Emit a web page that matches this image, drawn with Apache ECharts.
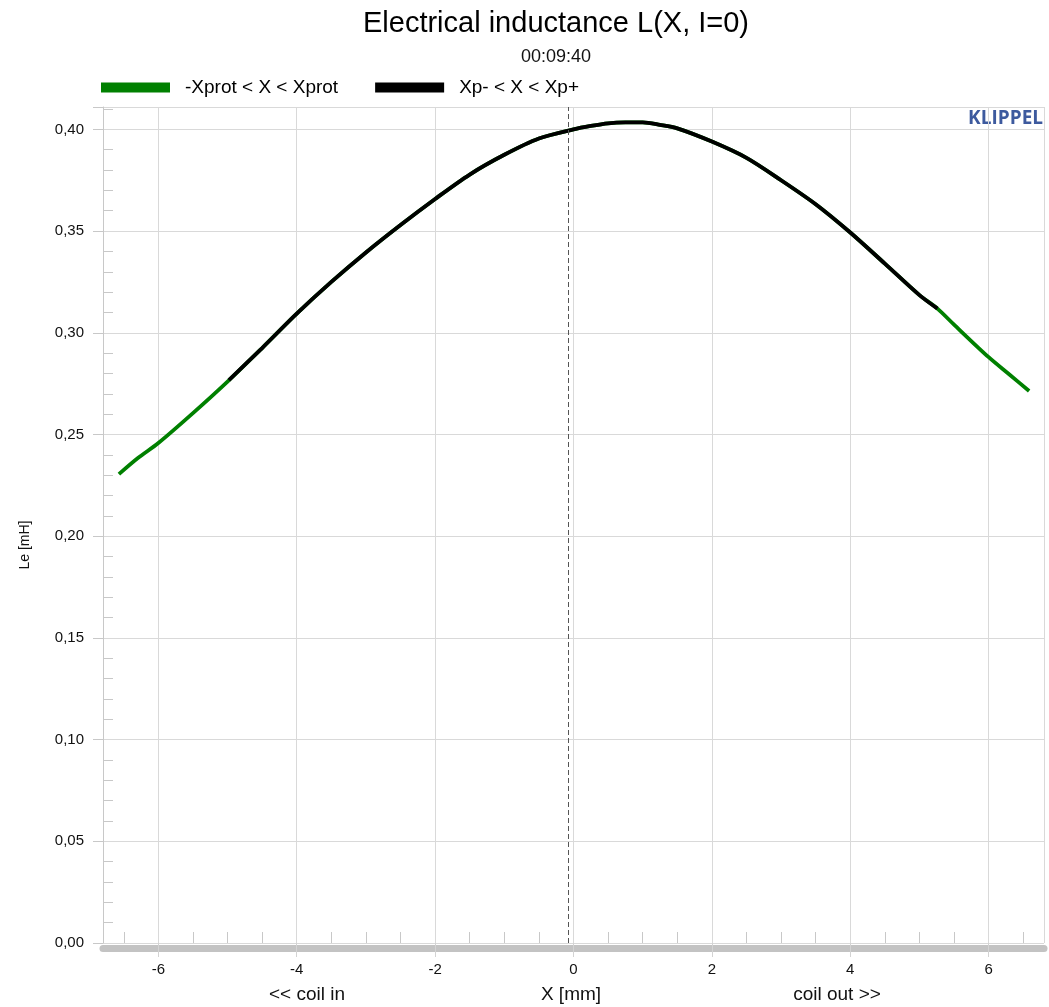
<!DOCTYPE html>
<html><head><meta charset="utf-8">
<script src="https://cdn.jsdelivr.net/npm/echarts@6/dist/echarts.min.js"></script>
<style>html,body{margin:0;padding:0;background:#fff}#c{width:1049px;height:1007px}</style>
</head><body><div id="c"></div>
<script>
// Full range -Xprot < X < Xprot (green)
const protX = [-6.57,-6.3,-6.0,-5.5,-5.0,-4.5,-4.0,-3.5,-3.0,-2.5,-2.0,-1.5,-1.0,-0.5,0.0,0.25,0.5,0.75,1.0,1.25,1.5,2.0,2.5,3.0,3.5,4.0,4.5,5.0,5.26,5.5,6.0,6.3,6.585];
const protL = [0.2305,0.2383,0.2458,0.2605,0.2760,0.2925,0.3094,0.3250,0.3395,0.3530,0.3658,0.3778,0.3875,0.3955,0.4000,0.4017,0.4030,0.4034,0.4034,0.4022,0.4005,0.3940,0.3860,0.3750,0.3632,0.3493,0.3340,0.3185,0.3119,0.3040,0.2880,0.2795,0.2714];
// Xp- < X < Xp+ (black)
const xpX = [-4.98,-4.5,-4.0,-3.5,-3.0,-2.5,-2.0,-1.5,-1.0,-0.5,0.0,0.25,0.5,0.75,1.0,1.25,1.5,2.0,2.5,3.0,3.5,4.0,4.5,5.0,5.26];
const xpL = [0.2767,0.2925,0.3094,0.3250,0.3395,0.3530,0.3658,0.3778,0.3875,0.3955,0.4000,0.4017,0.4030,0.4034,0.4034,0.4022,0.4005,0.3940,0.3860,0.3750,0.3632,0.3493,0.3340,0.3185,0.3119];
const restX = -0.08;
const seriesNames = ['-Xprot < X < Xprot', 'Xp- < X < Xp+'];
const xRange = [-6.8, 6.8];
const yRange = [0, 0.411];
const yStep = 0.05;

const FF = '"Liberation Sans", Arial, sans-serif';
const chart = echarts.init(document.getElementById('c'), null, {renderer:'canvas'});
const yFmt = v => (Math.abs(v / yStep - Math.round(v / yStep)) < 1e-6) ? v.toFixed(2).replace('.', ',') : '';
const baseX = {type:'value', min:xRange[0], max:xRange[1], splitNumber:7, position:'bottom'};
const baseY = {type:'value', min:yRange[0], max:yRange[1], interval:yStep, position:'left'};

chart.setOption({
  animation:false,
  backgroundColor:'#fff',
  grid:{left:103, right:5, top:107, bottom:64, containLabel:false},
  legend:{
    data:seriesNames, left:101, top:78, padding:0, icon:'rect', itemWidth:69, itemHeight:10, itemGap:37,
    textStyle:{fontFamily:FF, fontSize:19, color:'#000', padding:[0,0,0,10]}
  },
  xAxis:[
    Object.assign({}, baseX, {
      axisLine:{show:false, onZero:false},
      axisTick:{show:true, length:14, lineStyle:{color:'#d3d3d3'}},
      axisLabel:{showMinLabel:false, showMaxLabel:false, margin:19, fontSize:15, color:'#111', fontFamily:FF},
      splitLine:{show:true, lineStyle:{color:'#d9d9d9', width:1}}
    }),
    Object.assign({}, baseX, {
      offset:5,
      axisLine:{show:true, onZero:false, lineStyle:{color:'#c3c3c3', width:7}},
      axisTick:{show:false}, axisLabel:{show:false}, splitLine:{show:false}
    }),
    Object.assign({}, baseX, {
      axisLine:{show:false, onZero:false},
      axisTick:{show:false, inside:true},
      minorTick:{show:true, splitNumber:4, length:11, lineStyle:{color:'#c8c8c8'}},
      axisLabel:{show:false}, splitLine:{show:false}
    })
  ],
  yAxis:[
    Object.assign({}, baseY, {
      axisLine:{show:true, onZero:false, lineStyle:{color:'#c8c8c8', width:1}},
      axisTick:{show:true, length:10, lineStyle:{color:'#c8c8c8'}},
      axisLabel:{formatter:yFmt, margin:19, fontSize:15, color:'#111', fontFamily:FF},
      splitLine:{show:true, lineStyle:{color:'#d9d9d9', width:1}}
    }),
    Object.assign({}, baseY, {
      axisLine:{show:false, onZero:false},
      axisTick:{show:false, inside:true},
      minorTick:{show:true, splitNumber:5, length:10, lineStyle:{color:'#c8c8c8'}},
      axisLabel:{show:false}, splitLine:{show:false}
    })
  ],
  series:[
    {
      name:seriesNames[0], type:'line', xAxisIndex:0, yAxisIndex:0,
      data:protX.map((x,i)=>[x, protL[i]]), symbol:'none', showSymbol:false, smooth:0.3,
      lineStyle:{color:'#008000', width:3.8}, itemStyle:{color:'#008000'},
      markLine:{silent:true, symbol:'none', label:{show:false},
        lineStyle:{color:'#555', width:1, type:[5,3]},
        data:[{xAxis:restX}]}
    },
    {
      name:seriesNames[1], type:'line', xAxisIndex:0, yAxisIndex:0,
      data:xpX.map((x,i)=>[x, xpL[i]]), symbol:'none', showSymbol:false, smooth:0.3,
      lineStyle:{color:'#000', width:3.8}, itemStyle:{color:'#000'}
    }
  ],
  graphic:[
    {type:'text', x:556, y:9, style:{text:'Electrical inductance L(X, I=0)', font:'29px ' + FF, fill:'#000', textAlign:'center', textVerticalAlign:'top'}},
    {type:'text', x:556, y:48, style:{text:'00:09:40', font:'18px ' + FF, fill:'#111', textAlign:'center', textVerticalAlign:'top'}},
    {type:'text', x:1043, y:109, style:{text:'KLIPPEL', font:'bold 19px "Open Sans", sans-serif', fill:'#3d5a9e', textAlign:'right', textVerticalAlign:'top'}},
    {type:'text', x:25, y:545, rotation:Math.PI/2, style:{text:'Le [mH]', font:'14px ' + FF, fill:'#111', textAlign:'center', textVerticalAlign:'middle'}},
    {type:'text', x:307, y:995, style:{text:'<< coil in', font:'19px ' + FF, fill:'#111', textAlign:'center', textVerticalAlign:'middle'}},
    {type:'text', x:571, y:995, style:{text:'X [mm]', font:'19px ' + FF, fill:'#111', textAlign:'center', textVerticalAlign:'middle'}},
    {type:'text', x:837, y:995, style:{text:'coil out >>', font:'19px ' + FF, fill:'#111', textAlign:'center', textVerticalAlign:'middle'}}
  ]
});
</script></body></html>
